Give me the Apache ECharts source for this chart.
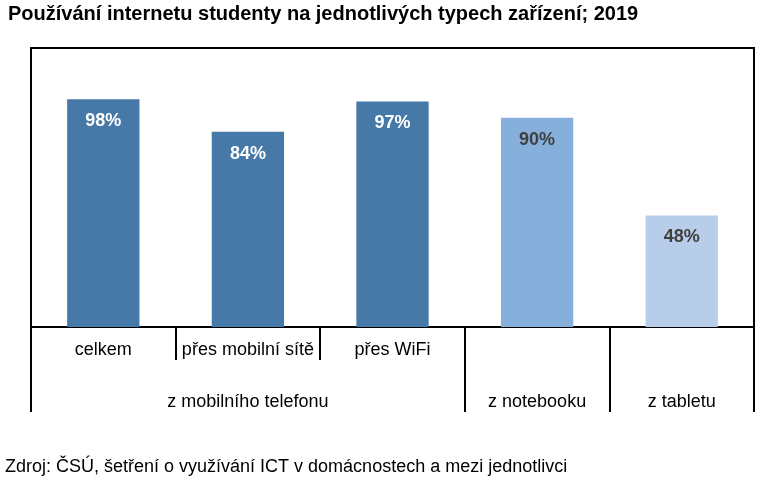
<!DOCTYPE html>
<html><head><meta charset="utf-8">
<script src="https://cdn.jsdelivr.net/npm/echarts@6/dist/echarts.min.js"></script>
<style>html,body{margin:0;padding:0;background:#fff}#c{width:767px;height:481px}</style>
</head><body><div id="c"></div>
<script>
const categories = ['celkem', 'přes mobilní sítě', 'přes WiFi', 'z notebooku', 'z tabletu'];
const level1Labels = ['celkem', 'přes mobilní sítě', 'přes WiFi', '', ''];
const level2Labels = ['', 'z mobilního telefonu', '', 'z notebooku', 'z tabletu'];
const values = [98, 84, 97, 90, 48];
const barColors = ['#4679a8', '#4679a8', '#4679a8', '#86afdc', '#b8cde9'];
const labelColors = ['#ffffff', '#ffffff', '#ffffff', '#404040', '#404040'];
const groupStarts = [0, 3, 4];

const font = 'Liberation Sans, Arial, sans-serif';
const chart = echarts.init(document.getElementById('c'));
chart.setOption({
  animation: false,
  title: [
    {text: 'Používání internetu studenty na jednotlivých typech zařízení; 2019', left: 8, top: 4, padding: 0,
     textStyle: {fontFamily: font, fontSize: 20, fontWeight: 'bold', color: '#000'}},
    {text: 'Zdroj: ČSÚ, šetření o využívání ICT v domácnostech a mezi jednotlivci', left: 5, top: 458, padding: 0,
     textStyle: {fontFamily: font, fontSize: 18, fontWeight: 'normal', color: '#000'}}
  ],
  grid: {left: 31, right: 13, top: 48, bottom: 154, show: true, borderColor: '#000', borderWidth: 2, containLabel: false},
  xAxis: [
    {type: 'category', data: categories, position: 'bottom',
     axisLine: {show: true, lineStyle: {color: '#000', width: 2}},
     axisTick: {show: true, length: 33, interval: 0, lineStyle: {color: '#000', width: 2}},
     axisLabel: {interval: 0, margin: 14, fontFamily: font, fontSize: 18, color: '#000',
       formatter: (v, i) => level1Labels[i]}},
    {type: 'category', data: categories, position: 'bottom', offset: 0,
     axisLine: {show: false},
     axisTick: {show: true, length: 85, interval: (i) => groupStarts.indexOf(i) >= 0, lineStyle: {color: '#000', width: 2}},
     axisLabel: {interval: 0, margin: 66, fontFamily: font, fontSize: 18, color: '#000',
       formatter: (v, i) => level2Labels[i]}}
  ],
  yAxis: {type: 'value', min: 0, max: 120, show: false, splitLine: {show: false}},
  series: [{
    type: 'bar', xAxisIndex: 0, barWidth: '50%',
    data: values.map((v, i) => ({value: v, itemStyle: {color: barColors[i]},
      label: {color: labelColors[i]}})),
    label: {show: true, position: 'insideTop', distance: 13, formatter: '{c}%',
      fontFamily: font, fontSize: 18, fontWeight: 'bold'}
  }]
});
</script></body></html>
